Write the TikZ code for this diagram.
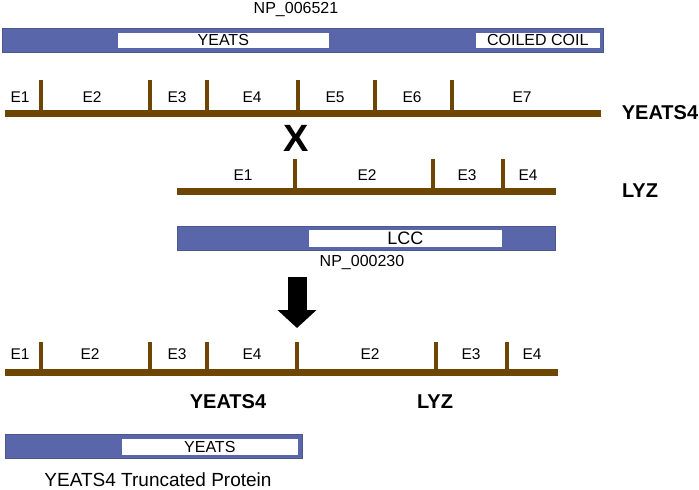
\documentclass[tikz,border=0pt]{standalone}
\usepackage{fontspec}
\setmainfont{Liberation Sans}
\usetikzlibrary{positioning}
\usetikzlibrary{arrows.meta}
\definecolor{barblue}{RGB}{89,102,170}
\definecolor{exonbrown}{RGB}{108,70,2}
\tikzset{bar node/.style={fill=barblue,draw=barblue!85!black,line width=0.6pt,inner sep=0pt,anchor=north west},
  domain node/.style={fill=white,draw=barblue,line width=0.6pt,inner sep=0pt,anchor=north west,font=\fontsize{16}{18}\selectfont},
  exon line/.style={draw=exonbrown,line width=7pt},
  tick line/.style={draw=exonbrown,line width=3.5pt},
  exon label/.style={font=\fontsize{15.5}{18}\selectfont,inner sep=0pt},
  id label/.style={font=\fontsize{16}{18}\selectfont,inner sep=0pt},
  gene label/.style={font=\bfseries\fontsize{20}{22}\selectfont,inner sep=0pt},}

\begin{document}
\begin{tikzpicture}[x=1pt,y=-1pt]
    \useasboundingbox (0,0) rectangle (699,490);

    % YEATS4 protein
    \node[id label] (np6521) at (296,10) {NP\_006521};
    \node[bar node,minimum width=601pt,minimum height=24pt] (prot1) at (2,28) {};
    \node[domain node,minimum width=212pt,minimum height=16pt] (yeats1) at (117,32) {YEATS};
    \node[domain node,minimum width=125pt,minimum height=16pt] (coil) at (475,32) {COILED COIL};

    % YEATS4 exons
    \coordinate (y4start) at (5,113);
    \coordinate (y4end) at (601,113);
    \path[exon line] (y4start) -- (y4end);
    \foreach \x in {41,150,207,298,375,452}
        \path[tick line] (\x,113) -- (\x,80);
    \foreach \x/\e in {20/1,92/2,177/3,252/4,335/5,412/6,522/7}
        \node[exon label] at (\x,97) {E\e};
    \node[gene label] (yeats4) at (660,113) {YEATS4};

    \node[font=\bfseries\fontsize{38}{40}\selectfont,inner sep=0pt] (cross) at (296,138) {X};

    % LYZ exons
    \coordinate (lyzstart) at (177,191);
    \coordinate (lyzend) at (556,191);
    \path[exon line] (lyzstart) -- (lyzend);
    \foreach \x in {295,433,503}
        \path[tick line] (\x,191) -- (\x,159);
    \foreach \x/\e in {243/1,367/2,467/3,528/4}
        \node[exon label] at (\x,175) {E\e};
    \node[gene label] (lyz) at (640,191) {LYZ};

    % LYZ protein
    \node[bar node,minimum width=378pt,minimum height=24pt] (prot2) at (177,226) {};
    \node[domain node,minimum width=194pt,minimum height=18pt,font=\fontsize{18}{20}\selectfont] (lcc) at (308,229) {LCC};
    \node[id label] (np230) at (362,263) {NP\_000230};

    % fusion
    \coordinate (arrowtop) at (297,277);
    \coordinate (arrowtip) at (297,328);
    \draw[line width=19pt,-{Triangle[width=38pt,length=18pt]}] (arrowtop) -- (arrowtip);

    \coordinate (fusstart) at (5,372);
    \coordinate (fusend) at (558,372);
    \path[exon line] (fusstart) -- (fusend);
    \foreach \x in {41,150,207,297,436,507}
        \path[tick line] (\x,372) -- (\x,342);
    \foreach \x/\e in {20/1,90/2,177/3,252/4,370/2,471/3,532/4}
        \node[exon label] at (\x,354) {E\e};
    \node[gene label] (fusyeats4) at (228,402) {YEATS4};
    \node[gene label] (fuslyz) at (435,402) {LYZ};

    % truncated protein
    \node[bar node,minimum width=297pt,minimum height=24pt] (prot3) at (5,434) {};
    \node[domain node,minimum width=177pt,minimum height=17pt] (yeats2) at (121,438) {YEATS};
    \node[font=\fontsize{19}{21}\selectfont,inner sep=0pt] (trunc) at (158,480) {YEATS4 Truncated Protein};
\end{tikzpicture}
\end{document}
